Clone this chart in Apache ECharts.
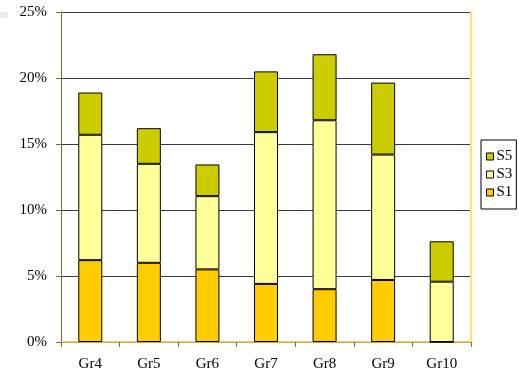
<!DOCTYPE html>
<html>
<head>
<meta charset="utf-8">
<script src="https://cdn.jsdelivr.net/npm/echarts@6/dist/echarts.min.js"></script>
<style>
html,body{margin:0;padding:0;background:#fff;}
#chart{width:519px;height:374px;}
</style>
</head>
<body>
<div id="chart"></div>
<script>
const categories = ['Gr4','Gr5','Gr6','Gr7','Gr8','Gr9','Gr10'];
const s1 = [6.2, 6.0, 5.5, 4.4, 4.0, 4.7, 0];
const s3 = [9.5, 7.5, 5.55, 11.5, 12.8, 9.5, 4.57];
const s5 = [3.2, 2.7, 2.4, 4.6, 5.0, 5.45, 3.06];
const yTicks = { min: 0, max: 25, interval: 5 };

const font = 'Liberation Serif';
const axisColor = '#7d6b2e';

const chart = echarts.init(document.getElementById('chart'), null, {renderer: 'canvas'});

function bar(name, data, color) {
  return {
    name: name,
    type: 'bar',
    stack: 'total',
    data: data,
    barWidth: 24,
    itemStyle: { color: color, borderColor: '#000', borderWidth: 1 },
    emphasis: { disabled: true }
  };
}

chart.setOption({
  animation: false,
  backgroundColor: '#fff',
  textStyle: { fontFamily: font, color: '#000' },
  grid: { left: 61, right: 48, top: 12, bottom: 32, containLabel: false },
  graphic: [
    { type: 'rect', shape: { x: 0, y: 12, width: 8, height: 6 }, style: { fill: '#ececec' } }
  ],
  legend: {
    data: ['S5', 'S3', 'S1'],
    orient: 'vertical',
    left: 481,
    top: 140,
    padding: [9, 4, 9, 5],
    itemGap: 3,
    itemWidth: 7,
    itemHeight: 7,
    icon: 'rect',
    borderColor: '#000',
    borderWidth: 1,
    borderRadius: 0,
    backgroundColor: '#fff',
    itemStyle: { borderColor: '#000', borderWidth: 1 },
    textStyle: { fontFamily: font, fontSize: 15, color: '#000', padding: [0, 0, 0, -2], lineHeight: 15 }
  },
  xAxis: [
    {
      type: 'category',
      data: categories,
      axisLine: { lineStyle: { color: axisColor, width: 1 } },
      axisTick: { show: true, length: 5, inside: false, lineStyle: { color: axisColor } },
      axisLabel: { fontFamily: font, fontSize: 15, color: '#000', margin: 15 }
    },
    {
      type: 'category',
      data: categories,
      position: 'top',
      axisLine: { lineStyle: { color: '#e8c040', width: 1.5 } },
      axisTick: { show: false },
      axisLabel: { show: false }
    }
  ],
  yAxis: [
    {
      type: 'value',
      min: yTicks.min,
      max: yTicks.max,
      interval: yTicks.interval,
      axisLine: { show: true, lineStyle: { color: axisColor, width: 1 } },
      axisTick: { show: true, length: 5, lineStyle: { color: axisColor } },
      axisLabel: { fontFamily: font, fontSize: 15, color: '#000', margin: 14, formatter: '{value}%' },
      splitLine: { show: true, lineStyle: { color: '#3a3a3a', width: 1 } }
    },
    {
      type: 'value',
      min: yTicks.min,
      max: yTicks.max,
      interval: yTicks.interval,
      position: 'right',
      axisLine: { show: true, lineStyle: { color: '#ffe070', width: 2 } },
      axisTick: { show: false },
      axisLabel: { show: false },
      splitLine: { show: false }
    }
  ],
  series: [
    bar('S1', s1, '#ffcc00'),
    bar('S3', s3, '#ffff99'),
    bar('S5', s5, '#cccc00')
  ]
});
</script>
</body>
</html>
